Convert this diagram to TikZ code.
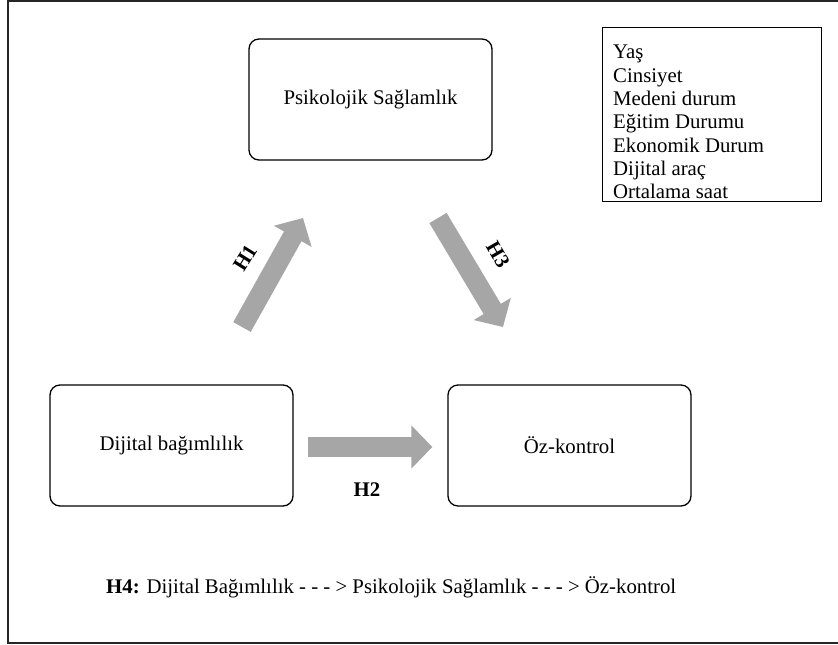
\documentclass[tikz,border=0pt]{standalone}
\usepackage{fontspec}
\setmainfont{Liberation Serif}
\usetikzlibrary{arrows.meta}
\definecolor{arrowgray}{RGB}{166,166,166}
\tikzset{
  concept/.style={draw, rounded corners=10pt, line width=1.3pt, minimum width=243pt, minimum height=121pt},
  hyparrow/.style={draw=arrowgray, line width=20pt, -{Triangle[width=42pt,length=21pt]}},
  hyplabel/.style={font=\fontsize{20.8}{23.3}\selectfont\bfseries},
}
\begin{document}
\begin{tikzpicture}[x=1pt, y=-1pt, font=\fontsize{20.8}{23.3}\selectfont]
    \useasboundingbox (0,0) rectangle (838,645);
    % outer frame, open on the right
    \draw[line width=2pt, black!85] (838,1) -- (8,1) -- (8,643) -- (838,643);
    % the three concepts
    \node[concept] (psi) at (370.5, 99.5) {Psikolojik Sağlamlık};
    \node[concept] (dig) at (171.5, 445.5) {Dijital bağımlılık};
    \node[concept] (oz) at (569.5, 445.5) {Öz-kontrol};
    % control variables
    \node[draw, line width=1.3pt, anchor=north west, minimum width=219pt, minimum height=174pt] (ctrl) at (602, 27) {};
    \node[anchor=north west, align=left, inner sep=0pt] (ctrllist) at (613, 45)
      {Yaş\\Cinsiyet\\Medeni durum\\Eğitim Durumu\\Ekonomik Durum\\Dijital araç\\Ortalama saat};
    % hypotheses
    \coordinate (h1a) at (242, 327);
    \coordinate (h1b) at (303, 218);
    \coordinate (h3a) at (438, 218);
    \coordinate (h3b) at (503, 327);
    \draw[hyparrow] (h1a) -- (h1b);
    \draw[hyparrow] (h3a) -- (h3b);
    \draw[hyparrow, shorten <=14pt, shorten >=15pt] ([yshift=-1.5pt]dig.east) -- ([yshift=-1.5pt]oz.west);
    \node[hyplabel, rotate=58] (h1) at (245, 258) {H1};
    \node[hyplabel] (h2) at (367, 490) {H2};
    \node[hyplabel, rotate=-60] (h3) at (498, 255) {H3};
    \node[anchor=base west, inner sep=0pt] (h4) at (106, 593)
      {\textbf{H4:} Dijital Bağımlılık - - - > Psikolojik Sağlamlık - - - > Öz-kontrol};
  \end{tikzpicture}
\end{document}
